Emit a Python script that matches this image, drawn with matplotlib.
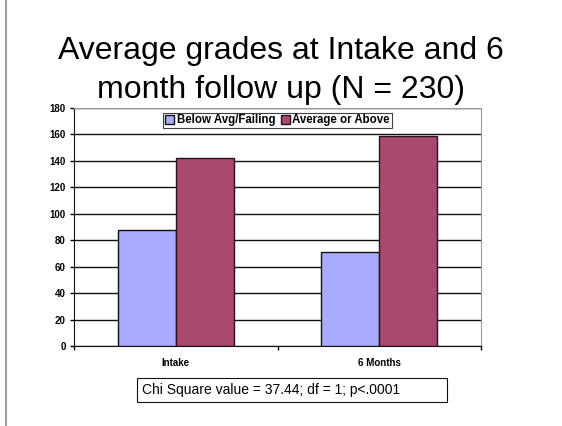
import numpy as np
import matplotlib.pyplot as plt
from matplotlib.lines import Line2D
from matplotlib.patches import Rectangle

plt.rcParams['font.family'] = ['Liberation Sans', 'DejaVu Sans']

# data
categories = ["Intake", "6 Months"]
below_avg = [88, 71]
avg_above = [142, 159]
series_names = ["Below Avg/Failing", "Average or Above"]

W, H = 562, 426
fig = plt.figure(figsize=(5.62, 4.26), dpi=100)
ax = fig.add_axes([74/W, 1 - 346/H, 407/W, 238/H])

x = np.arange(len(categories))
w = 0.285
ax.bar(x - w/2, below_avg, w, color="#AAAAFF", edgecolor="#111111", linewidth=1, label=series_names[0], zorder=3)
ax.bar(x + w/2, avg_above, w, color="#A8496F", edgecolor="#2a1020", linewidth=1, label=series_names[1], zorder=3)

ax.set_xlim(-0.5, 1.5)
ax.set_ylim(0, 180)
ax.set_yticks(range(0, 181, 20))
ax.set_xticks(x)
ax.set_xticklabels(categories, fontsize=7, fontweight="bold")
ax.set_xticks([-0.5, 0.5, 1.5], minor=True)
ax.tick_params(axis="x", which="major", length=0, pad=9)
ax.tick_params(axis="x", which="minor", length=3, direction="out", width=1)
ax.tick_params(axis="y", length=3, direction="out", labelsize=7, width=1, pad=3)
for lab in ax.get_yticklabels():
    lab.set_fontweight("bold")
ax.yaxis.grid(True, color="#111111", linewidth=1, zorder=0)

for side in ["top", "right"]:
    ax.spines[side].set_color("#999999")
ax.spines["left"].set_color("#111111")
ax.spines["bottom"].set_color("#111111")

leg = ax.legend(loc="upper center", bbox_to_anchor=(0.5, 0.985), ncol=2,
                prop={"weight": "bold", "size": 8.3}, frameon=True, fancybox=False,
                handlelength=0.75, handleheight=0.75, handletextpad=0.25, columnspacing=0.5,
                borderpad=0.15, borderaxespad=0.1)
leg.get_frame().set_edgecolor("#111111")
leg.get_frame().set_linewidth(0.8)

# title, two lines
fig.text(0.5, 1 - 59/H, "Average grades at Intake and 6", ha="center", va="baseline", fontsize=23)
fig.text(0.5, 1 - 98/H, "month follow up (N = 230)", ha="center", va="baseline", fontsize=23)

# chi square note
fig.add_artist(Rectangle((137/W, 1 - 402/H), 310/W, 24/H, facecolor="white",
                         edgecolor="#111111", linewidth=0.8, transform=fig.transFigure))
fig.text(142/W, 1 - 390/H, "Chi Square value = 37.44; df = 1; p<.0001", ha="left", va="center", fontsize=10)

fig.add_artist(Line2D([6/W, 6/W], [0, 1], color="#888888", linewidth=1.2, transform=fig.transFigure))

fig.savefig("out.png", dpi=100)
